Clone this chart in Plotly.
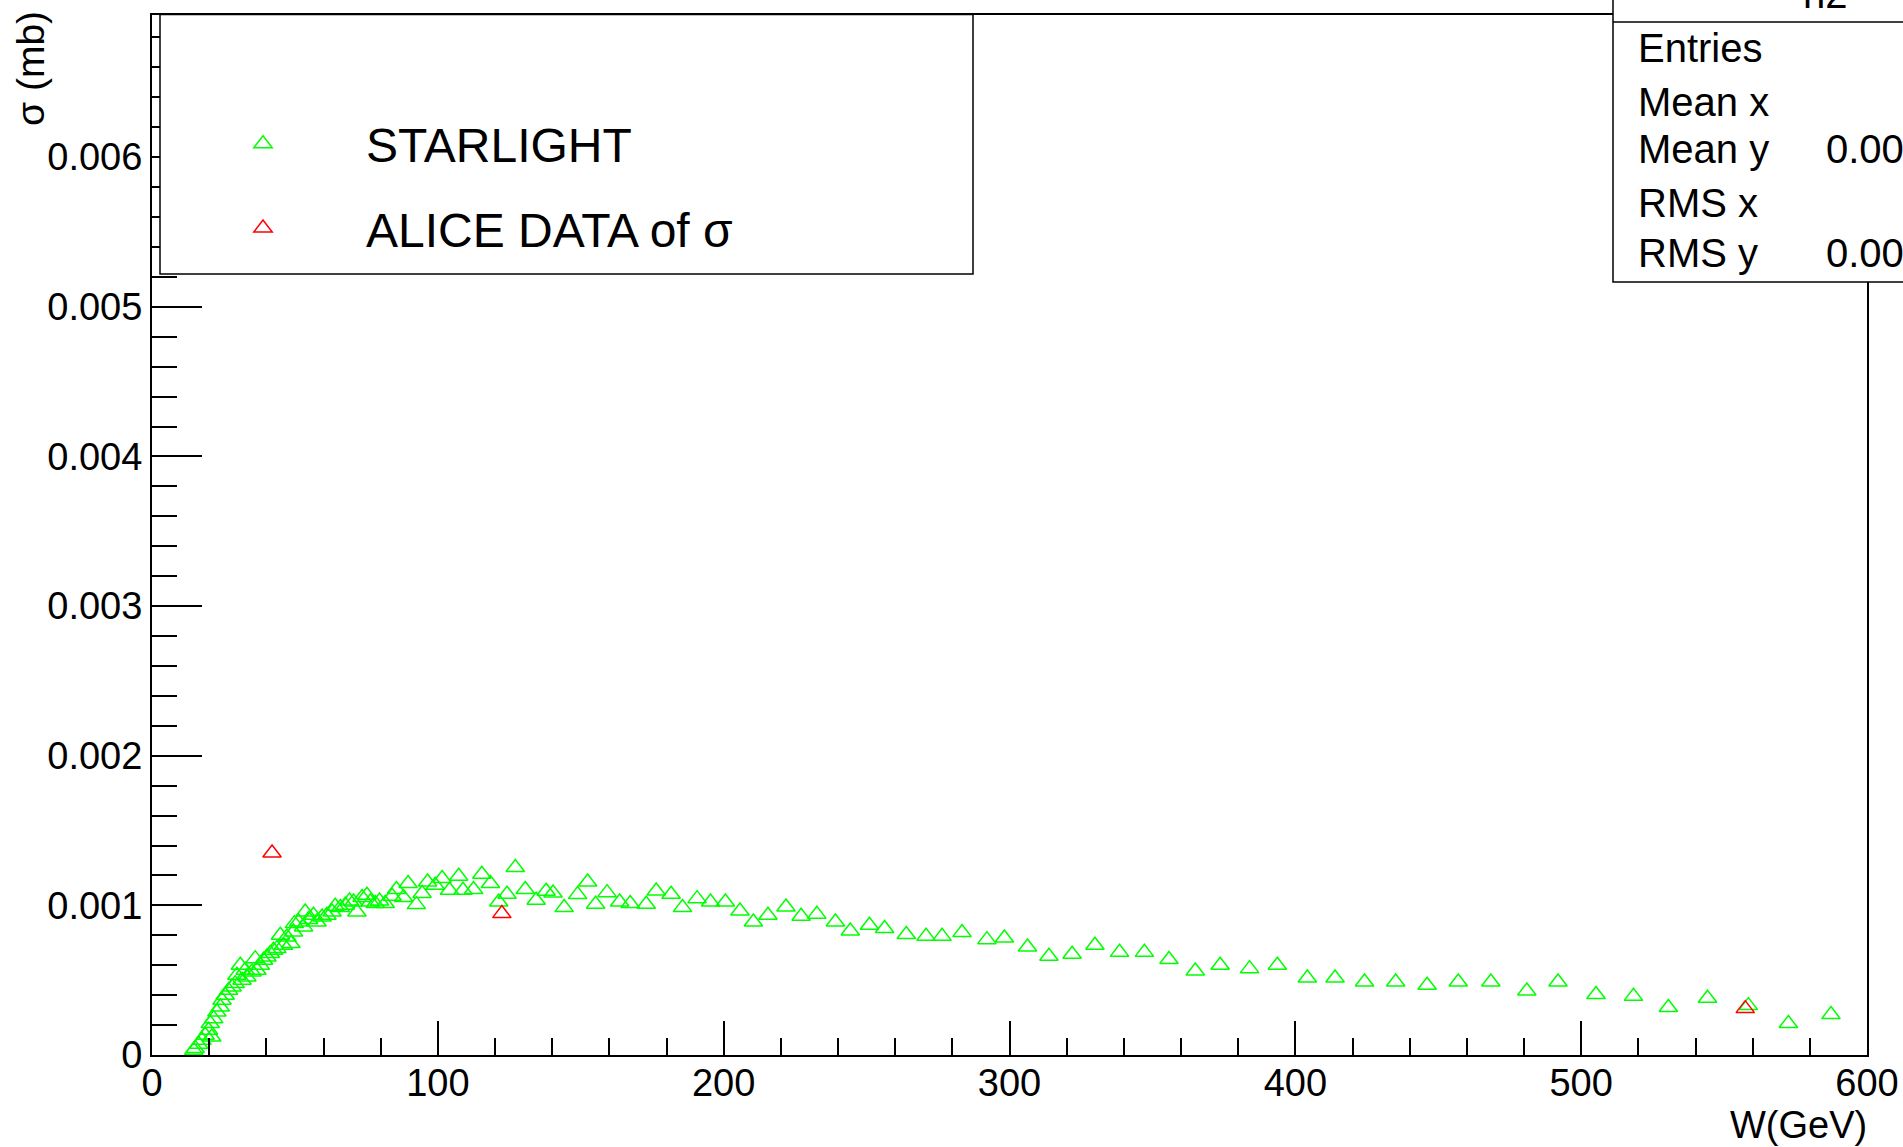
import plotly.graph_objects as go

# ---------------- data ----------------
starlight_w = [
    14.6, 15.1, 16.3, 17.5, 18.6, 19.8, 20.4, 20.9, 21.6, 22.7, 23.9, 24.5, 25.6, 26.8,
    28.0, 29.1, 29.7, 30.9, 31.5, 32.6, 33.2, 35.0, 36.1, 36.7, 37.9, 39.0, 40.2, 41.4,
    42.5, 43.7, 44.9, 46.0, 47.2, 48.6, 49.5, 49.8, 51.3, 53.0, 53.6, 54.8, 56.5, 57.7,
    59.5, 61.2, 63.0, 64.1, 65.9, 67.6, 69.1, 70.5, 71.7, 73.5, 75.2, 76.4, 78.1, 79.6,
    81.6, 84.0, 85.5, 88.0, 89.6, 92.5, 94.5, 96.4, 99.1, 101.5, 104.1, 107.3, 108.8,
    112.5, 115.4, 118.4, 121.3, 124.2, 127.1,
    130.6, 134.4, 137.9, 140.3, 144.2, 148.9, 152.4, 155.2, 159.2, 163.6, 167.3, 172.9,
    176.4, 181.6, 185.6, 190.7, 195.4, 200.6, 205.7, 210.4, 215.5, 221.8, 227.1, 232.6,
    239.1, 244.3, 251.0, 256.3, 263.9, 270.8, 276.4, 283.4,
    292.1, 298.2, 306.3, 313.8, 321.9, 329.9, 338.5, 347.2, 355.8, 365.0, 373.7, 384.0,
    393.7, 404.2, 413.9, 424.2, 435.1, 446.1, 457.0,
    468.4, 481.0, 491.9, 505.2, 518.3, 530.5, 544.2, 558.5, 572.5, 587.4,
]
starlight_sigma = [
    0.000031, 0.000043, 0.000072, 0.000098, 0.000132, 0.000165, 0.000210, 0.000120, 0.000243,
    0.000287, 0.000321, 0.000366, 0.000399, 0.000432,
    0.000455, 0.000477, 0.000533, 0.000600, 0.000499, 0.000566, 0.000521, 0.000555, 0.000644,
    0.000566, 0.000600, 0.000633, 0.000655, 0.000678,
    0.000700, 0.000711, 0.000800, 0.000733, 0.000789, 0.000745, 0.000822, 0.000878, 0.000889,
    0.000856, 0.000956, 0.000905, 0.000934, 0.000889,
    0.000922, 0.000934, 0.000956, 0.000994, 0.000985, 0.001001, 0.001029, 0.001023, 0.000956,
    0.001052, 0.001067, 0.001023, 0.001012, 0.001029,
    0.001012, 0.001061, 0.001106, 0.001052, 0.001146, 0.001005, 0.001079, 0.001156, 0.001134,
    0.001179, 0.001101, 0.001194, 0.001101,
    0.001106, 0.001208, 0.001146, 0.001023, 0.001074, 0.001253,
    0.001106, 0.001034, 0.001094, 0.001083, 0.000985, 0.001072, 0.001156, 0.001007, 0.001085,
    0.001023, 0.001012, 0.001007,
    0.001096, 0.001074, 0.000985, 0.001045, 0.001023, 0.001023, 0.000962, 0.000889, 0.000934,
    0.000989, 0.000927, 0.000940,
    0.000889, 0.000829, 0.000867, 0.000845, 0.000805, 0.000793, 0.000793, 0.000818,
    0.000771, 0.000782, 0.000722, 0.000660, 0.000673, 0.000733, 0.000686, 0.000686, 0.000638,
    0.000561, 0.000600, 0.000577,
    0.000600, 0.000515, 0.000515, 0.000488, 0.000488, 0.000466, 0.000488,
    0.000488, 0.000428, 0.000488, 0.000404, 0.000392, 0.000317, 0.000379, 0.000330, 0.000210,
    0.000270,
]

alice_w = [42.0, 122.4, 557.4]
alice_sigma = [0.001350, 0.000945, 0.000310]

x_ticks = [0, 100, 200, 300, 400, 500, 600]
x_tick_labels = ["0", "100", "200", "300", "400", "500", "600"]
y_ticks = [0, 0.001, 0.002, 0.003, 0.004, 0.005, 0.006]
y_tick_labels = ["0", "0.001", "0.002", "0.003", "0.004", "0.005", "0.006"]

stats_labels = ["Entries", "Mean x", "Mean y", "RMS x", "RMS y"]
stats_values = ["", "", "0.00", "", "0.00"]

# ---------------- layout geometry (pixels) ----------------
W, H = 1903, 1147
L, R, T, B = 152, 1867, 15, 1055


def px(X):
    return (X - L) / (R - L)


def py(Y):
    return (B - Y) / (B - T)


FONT = "Liberation Sans, Arial, Helvetica, sans-serif"
GREEN = "#00ff00"
RED = "#ff0000"

fig = go.Figure()
fig.add_trace(go.Scatter(
    x=starlight_w, y=starlight_sigma, mode="markers", name="STARLIGHT",
    legendgroup="g1",
    marker=dict(symbol="triangle-up-open", size=16, color=GREEN,
                line=dict(width=1.5, color=GREEN)),
))
fig.add_trace(go.Scatter(
    x=alice_w, y=alice_sigma, mode="markers", name="ALICE DATA of σ",
    legendgroup="g2",
    marker=dict(symbol="triangle-up-open", size=16, color=RED,
                line=dict(width=1.5, color=RED)),
))

axis_common = dict(
    showline=True, linewidth=2, linecolor="black", mirror=True,
    showgrid=False, zeroline=False, ticks="inside", tickcolor="black",
    tickwidth=1.5, tickfont=dict(size=38, color="black", family=FONT),
    automargin=False,
)

fig.update_layout(
    width=W, height=H,
    margin=dict(l=L, r=W - R, t=T, b=H - B, pad=0, autoexpand=False),
    paper_bgcolor="white", plot_bgcolor="white",
    font=dict(family=FONT, color="black"),
    showlegend=True,
    legend=dict(
        x=px(160), y=py(106), xanchor="left", yanchor="top",
        bgcolor="rgba(0,0,0,0)", borderwidth=0,
        font=dict(size=48, family=FONT, color="black"),
        tracegroupgap=19, itemwidth=196, traceorder="grouped",
    ),
    xaxis=dict(
        range=[0, 600], tickmode="array", tickvals=x_ticks, ticktext=x_tick_labels,
        ticklen=34, ticklabelstandoff=-7,
        minor=dict(ticks="inside", ticklen=17, tickwidth=1.5, tickcolor="black",
                   tickmode="linear", tick0=0, dtick=20, showgrid=False),
        **axis_common,
    ),
    yaxis=dict(
        range=[0, 0.00695], tickmode="array", tickvals=y_ticks, ticktext=y_tick_labels,
        ticklen=50,
        minor=dict(ticks="inside", ticklen=25, tickwidth=1.5, tickcolor="black",
                   tickmode="linear", tick0=0, dtick=0.0002, showgrid=False),
        **axis_common,
    ),
)

shapes = []
# legend box
shapes.append(dict(type="rect", xref="paper", yref="paper",
                   x0=px(160), x1=px(973), y0=py(274), y1=py(14.6),
                   fillcolor="white", line=dict(color="black", width=1.5), layer="above"))
# stats box
shapes.append(dict(type="rect", xref="paper", yref="paper",
                   x0=px(1613), x1=px(1990), y0=py(282), y1=py(-60),
                   fillcolor="white", line=dict(color="black", width=1.5), layer="above"))
shapes.append(dict(type="line", xref="paper", yref="paper",
                   x0=px(1613), x1=px(1990), y0=py(22), y1=py(22),
                   line=dict(color="black", width=1.5), layer="above"))
fig.update_layout(shapes=shapes)

ann = []
ann.append(dict(text="σ (mb)", x=px(30), y=py(69), xref="paper", yref="paper",
                textangle=-90, showarrow=False, xanchor="center", yanchor="middle",
                font=dict(size=39, family=FONT, color="black")))
ann.append(dict(text="W(GeV)", x=px(1869), y=py(1125), xref="paper", yref="paper",
                showarrow=False, xanchor="right", yanchor="middle",
                font=dict(size=38, family=FONT, color="black")))
ann.append(dict(text="h2", x=px(1825), y=py(-6), xref="paper", yref="paper",
                showarrow=False, xanchor="center", yanchor="middle",
                font=dict(size=40, family=FONT, color="black")))
row_y = [48, 102, 149, 203, 253]
for lab, val, yy in zip(stats_labels, stats_values, row_y):
    ann.append(dict(text=lab, x=px(1636), y=py(yy), xref="paper", yref="paper",
                    showarrow=False, xanchor="left", yanchor="middle",
                    font=dict(size=40, family=FONT, color="black")))
    if val:
        ann.append(dict(text=val, x=px(1824), y=py(yy), xref="paper", yref="paper",
                        showarrow=False, xanchor="left", yanchor="middle",
                        font=dict(size=40, family=FONT, color="black")))
fig.update_layout(annotations=ann)

fig.write_html("out.html")
